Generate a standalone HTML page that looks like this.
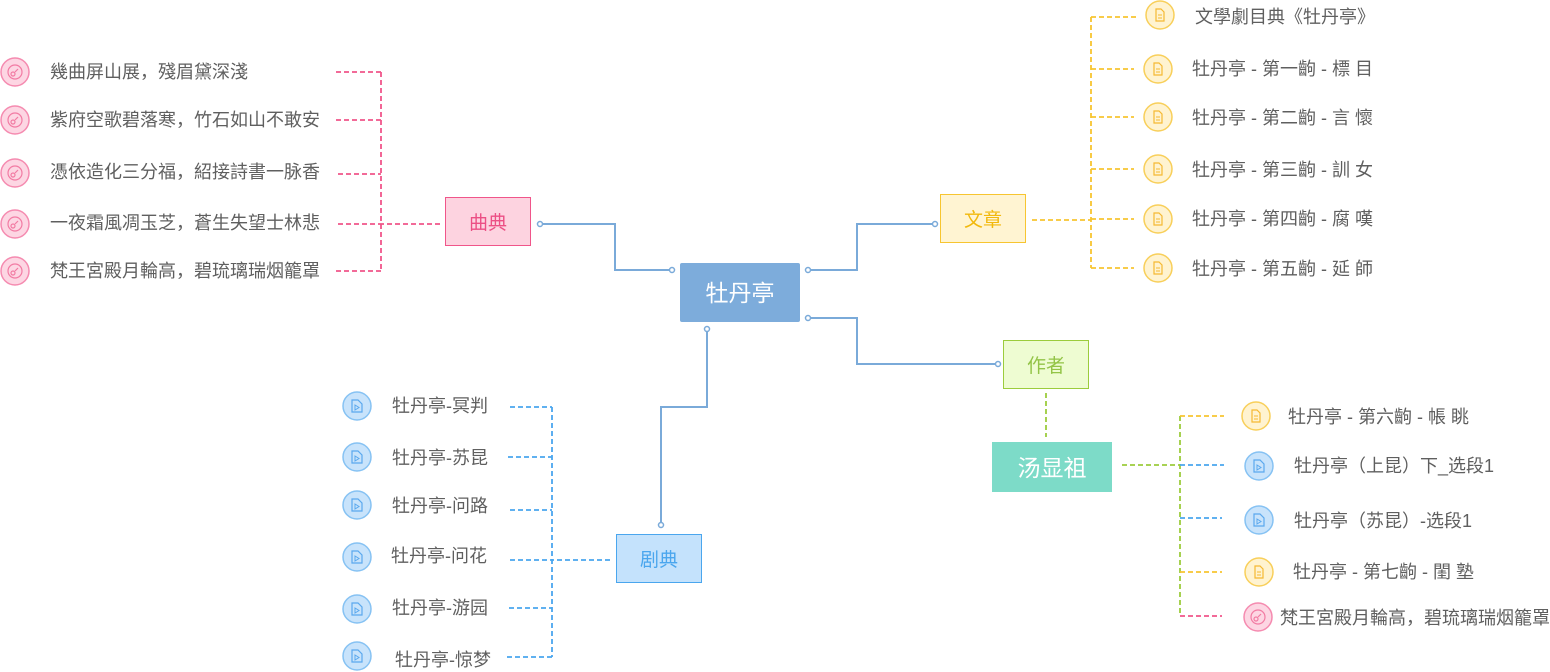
<!DOCTYPE html>
<html><head><meta charset="utf-8"><style>
body{margin:0;background:#fff;}
svg{display:block;}
text{font-family:"Liberation Sans","Noto Sans CJK SC",sans-serif;}
.t{font-size:18px;fill:#5f5f5f;}
</style></head><body>
<svg width="1550" height="672" viewBox="0 0 1550 672" xmlns="http://www.w3.org/2000/svg">
<defs>
<g id="ip"><circle r="14" fill="#fdd6e3" stroke="#f58bb0" stroke-width="1.5"/><circle r="7" fill="none" stroke="#f27ba3" stroke-width="1.2"/><circle cx="-2" cy="2" r="2" fill="none" stroke="#f27ba3" stroke-width="1.2"/><line x1="0" y1="0" x2="3" y2="-3" stroke="#f27ba3" stroke-width="1.2"/></g>
<g id="iy"><circle r="14" fill="#fff3d0" stroke="#f8cf5a" stroke-width="1.5"/><path d="M-4,-6 h5 l3,3 v9 h-8 z" fill="none" stroke="#f5b932" stroke-width="1.2"/><line x1="-2" y1="0" x2="2" y2="0" stroke="#f5b932"/><line x1="-2" y1="3" x2="2" y2="3" stroke="#f5b932"/></g>
<g id="ib"><circle r="14" fill="#c8e3fb" stroke="#86c2f3" stroke-width="1.5"/><path d="M-5,-6 h6 l4,4 v8 h-10 z" fill="none" stroke="#5aa8ee" stroke-width="1.2"/><path d="M-2,-1 l4,2.5 l-4,2.5 z" fill="none" stroke="#5aa8ee" stroke-width="1"/></g>
</defs>

<g fill="none" stroke="#7aaad9" stroke-width="2">
<path d="M540,224 H615 V270 H672"/>
<path d="M808,270 H857 V224 H935"/>
<path d="M808,318 H857 V364 H998"/>
<path d="M707,329 V407 H661 V525"/>
</g>
<g fill="#fff" stroke="#7aaad9" stroke-width="1.5">
<circle cx="540" cy="224" r="2.5"/><circle cx="672" cy="270" r="2.5"/>
<circle cx="808" cy="270" r="2.5"/><circle cx="935" cy="224" r="2.5"/>
<circle cx="808" cy="318" r="2.5"/><circle cx="998" cy="364" r="2.5"/>
<circle cx="707" cy="329" r="2.5"/><circle cx="661" cy="525" r="2.5"/>
</g>

<g fill="none" stroke-width="1.8" stroke-dasharray="5,3">
<g stroke="#f0558a">
<path d="M440,224 H381 M381,72 V271 M336,72 H381 M336,120 H381 M338,174 H381 M338,224 H381 M336,271 H381"/>
</g>
<g stroke="#f7c530">
<path d="M1032,220 H1091 M1091,17 V268 M1091,17 H1136 M1091,69 H1134 M1091,117 H1134 M1091,169 H1134 M1091,219 H1134 M1091,268 H1134"/>
</g>
<g stroke="#4aa6ee">
<path d="M610,560 H552 M552,407 V657 M510,407 H552 M508,457 H552 M510,510 H552 M510,560 H552 M509,608 H552 M507,657 H552"/>
</g>
<g stroke="#9ccc3c">
<path d="M1046,393 V437 M1122,465 H1180 M1180,416 V616"/>
</g>
<path d="M1180,416 H1224 M1180,572 H1222" stroke="#f7c530"/>
<path d="M1180,465 H1224 M1180,518 H1222" stroke="#4aa6ee"/>
<path d="M1180,616 H1222" stroke="#f0558a"/>
</g>

<rect x="680" y="263" width="120" height="59" rx="2" fill="#7dacdb"/>
<text x="740" y="301" font-size="23" fill="#fff" text-anchor="middle">牡丹亭</text>
<rect x="445.5" y="197.5" width="85" height="48" fill="#fdd3e0" stroke="#f0558a"/>
<text x="488" y="229" font-size="19" fill="#ec4f85" text-anchor="middle">曲典</text>
<rect x="940.5" y="194.5" width="85" height="48" fill="#fff4d2" stroke="#f7c530"/>
<text x="983" y="226" font-size="19" fill="#f2b90d" text-anchor="middle">文章</text>
<rect x="1003.5" y="340.5" width="85" height="48" fill="#eefcd2" stroke="#9ccc3c"/>
<text x="1046" y="372" font-size="19" fill="#93c447" text-anchor="middle">作者</text>
<rect x="992" y="442" width="120" height="50" fill="#7ddbc8"/>
<text x="1052" y="476" font-size="23" fill="#fff" text-anchor="middle">汤显祖</text>
<rect x="616.5" y="534.5" width="85" height="48" fill="#c4e2fc" stroke="#4aa6ee"/>
<text x="659" y="566" font-size="19" fill="#4aa6ee" text-anchor="middle">剧典</text>

<use href="#ip" x="15" y="72"/><text class="t" x="50" y="78">幾曲屏山展，殘眉黛深淺</text>
<use href="#ip" x="15" y="120"/><text class="t" x="50" y="126">紫府空歌碧落寒，竹石如山不敢安</text>
<use href="#ip" x="15" y="173"/><text class="t" x="50" y="178">憑依造化三分福，紹接詩書一脉香</text>
<use href="#ip" x="15" y="224"/><text class="t" x="50" y="229">一夜霜風凋玉芝，蒼生失望士林悲</text>
<use href="#ip" x="15" y="271"/><text class="t" x="50" y="277">梵王宮殿月輪高，碧琉璃瑞烟籠罩</text>

<use href="#iy" x="1160" y="15"/><text class="t" x="1195" y="23">文學劇目典《牡丹亭》</text>
<use href="#iy" x="1158" y="69"/><text class="t" x="1192" y="75">牡丹亭 - 第一齣 - 標 目</text>
<use href="#iy" x="1158" y="117"/><text class="t" x="1192" y="124">牡丹亭 - 第二齣 - 言 懷</text>
<use href="#iy" x="1158" y="169"/><text class="t" x="1192" y="176">牡丹亭 - 第三齣 - 訓 女</text>
<use href="#iy" x="1158" y="219"/><text class="t" x="1192" y="225">牡丹亭 - 第四齣 - 腐 嘆</text>
<use href="#iy" x="1158" y="268"/><text class="t" x="1192" y="275">牡丹亭 - 第五齣 - 延 師</text>

<use href="#ib" x="357" y="406"/><text class="t" x="392" y="412">牡丹亭-冥判</text>
<use href="#ib" x="357" y="457"/><text class="t" x="392" y="464">牡丹亭-苏昆</text>
<use href="#ib" x="357" y="505"/><text class="t" x="392" y="512">牡丹亭-问路</text>
<use href="#ib" x="357" y="557"/><text class="t" x="391" y="562">牡丹亭-问花</text>
<use href="#ib" x="357" y="609"/><text class="t" x="392" y="614">牡丹亭-游园</text>
<use href="#ib" x="357" y="656"/><text class="t" x="395" y="666">牡丹亭-惊梦</text>

<use href="#iy" x="1256" y="416"/><text class="t" x="1288" y="423">牡丹亭 - 第六齣 - 帳 眺</text>
<use href="#ib" x="1259" y="466"/><text class="t" x="1294" y="472">牡丹亭（上昆）下_选段1</text>
<use href="#ib" x="1259" y="520"/><text class="t" x="1294" y="527">牡丹亭（苏昆）-选段1</text>
<use href="#iy" x="1259" y="572"/><text class="t" x="1293" y="578">牡丹亭 - 第七齣 - 閨 塾</text>
<use href="#ip" x="1258" y="617"/><text class="t" x="1280" y="624">梵王宮殿月輪高，碧琉璃瑞烟籠罩</text>
</svg>
</body></html>
